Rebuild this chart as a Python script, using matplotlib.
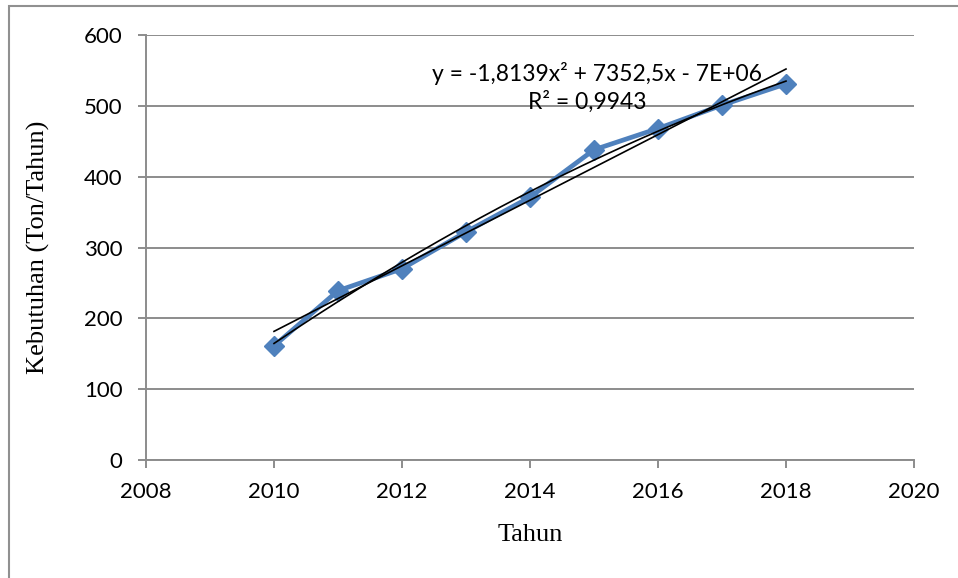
import numpy as np
import matplotlib
matplotlib.use("Agg")
import matplotlib.pyplot as plt
from matplotlib.patches import Rectangle

years = [2010, 2011, 2012, 2013, 2014, 2015, 2016, 2017, 2018]
kebutuhan = [161, 239, 270, 322, 371, 438, 468, 501, 531]
x_ticks = [2008, 2010, 2012, 2014, 2016, 2018, 2020]
y_ticks = [0, 100, 200, 300, 400, 500, 600]
equation = "y = -1,8139x² + 7352,5x - 7E+06"
r2_text = "R² = 0,9943"

fig = plt.figure(figsize=(9.58, 5.78), dpi=100)
ax = fig.add_axes([146/958, 1-460/578, (914-146)/958, (460-35)/578])

tick_font = "Lato"
blue = "#4F81BD"
grid_c = "#8C8C8C"

ax.plot(years, kebutuhan, color=blue, lw=3.4, marker="D", markersize=10.5,
        markeredgecolor=blue, markerfacecolor=blue, zorder=3)

xs = np.array(years, dtype=float)
ys = np.array(kebutuhan, dtype=float)
xc = xs - 2014
lin = np.polyfit(xc, ys, 1)
quad = np.polyfit(xc, ys, 2)
xx = np.linspace(xc.min(), xc.max(), 200)
ax.plot(xx + 2014, np.polyval(lin, xx), color="black", lw=1.2, zorder=4)
ax.plot(xx + 2014, np.polyval(quad, xx), color="black", lw=1.2, zorder=4)

ax.set_xlim(2008, 2020)
ax.set_ylim(0, 600)
ax.set_xticks(x_ticks)
ax.set_yticks(y_ticks)
ax.set_xticklabels([str(t) for t in x_ticks], fontfamily=tick_font, fontsize=16)
ax.set_yticklabels([str(t) for t in y_ticks], fontfamily=tick_font, fontsize=16)
ax.yaxis.grid(True, color=grid_c, lw=1.4)
ax.set_axisbelow(True)
for s in ["top", "right"]:
    ax.spines[s].set_visible(False)
for s in ["left", "bottom"]:
    ax.spines[s].set_color(grid_c)
    ax.spines[s].set_linewidth(1.4)
ax.tick_params(axis="both", color=grid_c, width=1.4, length=6)
ax.tick_params(axis="y", pad=11)
ax.tick_params(axis="x", pad=10)

ax.set_xlabel("Tahun", fontfamily="Liberation Serif", fontsize=19, labelpad=16)
ax.set_ylabel("Kebutuhan (Ton/Tahun)", fontfamily="Liberation Serif", fontsize=19, labelpad=24)

ax.text(2015.05, 546, equation, fontfamily=tick_font, fontsize=16.5, ha="center", va="center")
ax.text(2014.9, 506, r2_text, fontfamily=tick_font, fontsize=16.5, ha="center", va="center")

fig.patches.append(Rectangle((9/958, -0.1), 1.2, 1.1 - 6/578, transform=fig.transFigure,
                             fill=False, edgecolor="#909090", lw=1.5))

fig.savefig("out.png", dpi=100)
